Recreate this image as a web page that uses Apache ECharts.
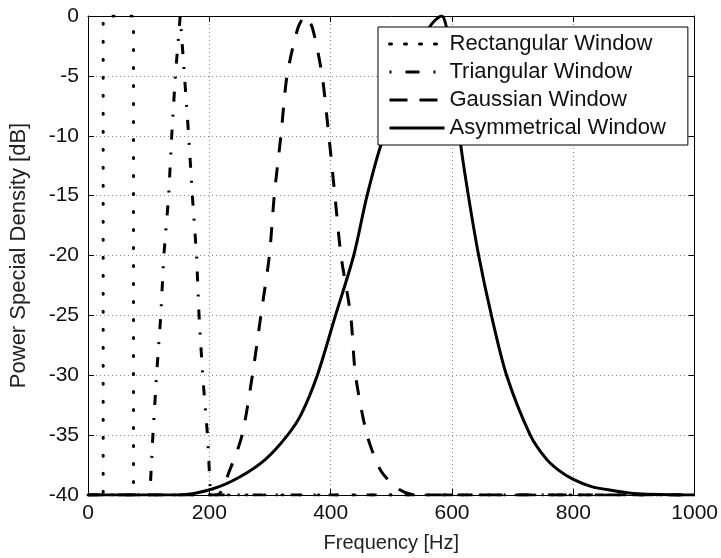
<!DOCTYPE html>
<html>
<head>
<meta charset="utf-8">
<script src="https://cdn.jsdelivr.net/npm/echarts@6/dist/echarts.min.js"></script>
<style>html,body{margin:0;padding:0;background:#fff}#c{width:721px;height:558px}</style>
</head>
<body>
<div id="c"></div>
<script>
var xTicks = [0, 200, 400, 600, 800, 1000];
var yTicks = [-40, -35, -30, -25, -20, -15, -10, -5, 0];
var seriesNames = ['Rectangular Window', 'Triangular Window', 'Gaussian Window', 'Asymmetrical Window'];

var rectFreq = [0, 25, 25, 75, 75, 1000];
var rectPsd  = [-40, -40, 0, 0, -40, -40];

var triFreq = [0, 102, 107, 113, 120, 125, 133, 138, 144, 152, 159, 166, 172, 179, 183, 189, 197, 202, 1000];
var triPsd  = [-40, -40, -35, -30, -25, -20, -15, -10, -5, 0, -5, -10, -15, -20, -25, -30, -35, -40, -40];

var gaussFreq = [0, 212, 233, 254, 271, 285, 299, 307, 318, 328, 346, 358, 370, 386, 397, 407, 417, 433, 441, 460, 483, 512, 540, 1000];
var gaussPsd  = [-40, -40, -38, -35, -30, -25, -20, -15, -10, -5, -1, 0, -1, -5, -10, -15, -20, -25, -30, -35, -38, -39.5, -40, -40];

var asymFreq = [0, 150, 205, 250, 293, 329, 352, 378, 408, 438, 460, 484, 527, 562, 583, 591, 602, 614, 627, 644, 665, 690, 729, 754, 775, 800, 830, 862, 906, 1000];
var asymPsd  = [-40, -40, -39.5, -38.5, -37, -35, -33.2, -30, -25, -20, -15, -10.6, -5, -1, 0, -1, -5, -10.6, -15, -20, -25, -30, -35, -36.9, -37.9, -38.7, -39.3, -39.6, -39.9, -40];

function pairs(xs, ys) { return xs.map(function (x, i) { return [x, ys[i]]; }); }

var FONT = '"Liberation Sans", Arial, Helvetica, sans-serif';
var gridLine = { show: true, lineStyle: { color: '#888', type: [1, 3], width: 1 } };
var plain = function (v) { return String(v); };

var chart = echarts.init(document.getElementById('c'), null, { renderer: 'canvas' });
chart.setOption({
  backgroundColor: '#fff',
  animation: false,
  grid: { left: 88, right: 24, top: 16, bottom: 63, containLabel: false },
  legend: {
    orient: 'vertical',
    left: 378, top: 27,
    itemWidth: 55, itemHeight: 14, itemGap: 6,
    padding: [6, 22, 6, 10],
    backgroundColor: '#fff',
    borderColor: '#000', borderWidth: 1,
    itemStyle: { opacity: 0 },
    textStyle: { fontFamily: FONT, fontSize: 22, color: '#111' },
    data: [
      { name: seriesNames[0], lineStyle: { type: [2, 13], width: 3 } },
      { name: seriesNames[1], lineStyle: { type: [2, 14, 14, 14], width: 3 } },
      { name: seriesNames[2], lineStyle: { type: [18, 12], width: 3 } },
      { name: seriesNames[3], lineStyle: { type: 'solid', width: 3 } }
    ]
  },
  xAxis: [{
    type: 'value', min: xTicks[0], max: xTicks[xTicks.length - 1], interval: 200,
    name: 'Frequency [Hz]', nameLocation: 'middle', nameGap: 38,
    nameTextStyle: { fontFamily: FONT, fontSize: 20, color: '#222' },
    axisLine: { show: true, onZero: false, lineStyle: { color: '#000', width: 1 } },
    axisTick: { show: true, inside: true, length: 6, lineStyle: { color: '#000' } },
    axisLabel: { fontFamily: FONT, fontSize: 21, color: '#111', margin: 8, formatter: plain },
    splitLine: gridLine
  }, {
    type: 'value', position: 'top', min: xTicks[0], max: xTicks[xTicks.length - 1], interval: 200,
    axisLine: { show: true, onZero: false, lineStyle: { color: '#000', width: 1 } },
    axisTick: { show: true, inside: true, length: 6, lineStyle: { color: '#000' } },
    axisLabel: { show: false }, splitLine: { show: false }
  }],
  yAxis: [{
    type: 'value', min: yTicks[0], max: yTicks[yTicks.length - 1], interval: 5,
    name: 'Power Special Density [dB]', nameLocation: 'middle', nameGap: 58,
    nameTextStyle: { fontFamily: FONT, fontSize: 22, color: '#222' },
    axisLine: { show: true, onZero: false, lineStyle: { color: '#000', width: 1 } },
    axisTick: { show: true, inside: true, length: 6, lineStyle: { color: '#000' } },
    axisLabel: { fontFamily: FONT, fontSize: 21, color: '#111', margin: 9, formatter: plain },
    splitLine: gridLine
  }, {
    type: 'value', position: 'right', min: yTicks[0], max: yTicks[yTicks.length - 1], interval: 5,
    axisLine: { show: true, onZero: false, lineStyle: { color: '#000', width: 1 } },
    axisTick: { show: true, inside: true, length: 6, lineStyle: { color: '#000' } },
    axisLabel: { show: false }, splitLine: { show: false }
  }],
  series: [{
    name: seriesNames[0], type: 'line', symbol: 'none', clip: true,
    data: pairs(rectFreq, rectPsd),
    itemStyle: { color: '#000' },
    lineStyle: { color: '#000', width: 3, type: [1, 17], cap: 'round' }
  }, {
    name: seriesNames[1], type: 'line', symbol: 'none', clip: true,
    data: pairs(triFreq, triPsd),
    itemStyle: { color: '#000' },
    lineStyle: { color: '#000', width: 3, type: [10, 13, 2, 13] }
  }, {
    name: seriesNames[2], type: 'line', symbol: 'none', clip: true, smooth: 0.25,
    data: pairs(gaussFreq, gaussPsd),
    itemStyle: { color: '#000' },
    lineStyle: { color: '#000', width: 3, type: [15, 15] }
  }, {
    name: seriesNames[3], type: 'line', symbol: 'none', clip: true, smooth: 0.3,
    data: pairs(asymFreq, asymPsd),
    itemStyle: { color: '#000' },
    lineStyle: { color: '#000', width: 3, type: 'solid' }
  }]
});
</script>
</body>
</html>
